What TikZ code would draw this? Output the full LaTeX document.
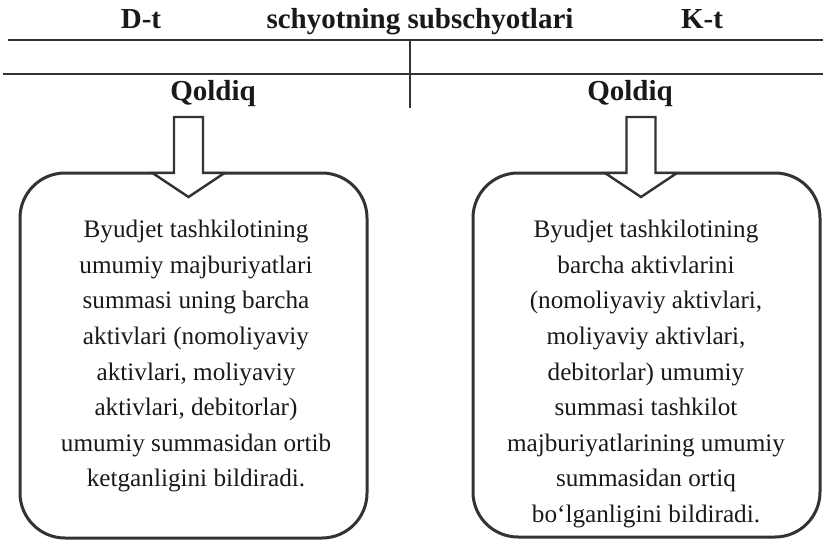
\documentclass[tikz,border=0pt]{standalone}
\usepackage{fontspec}
\setmainfont{Liberation Serif}
\begin{document}
\begin{tikzpicture}[x=1pt,y=-1pt,
  rule/.style={draw=black!80,line width=1.8pt},
  head/.style={font=\fontsize{29}{34}\selectfont\bfseries,text=black!90,inner sep=0pt,anchor=base},
  infobox/.style={draw=black!80,line width=3pt,rounded corners=45pt},
  body/.style={font=\fontsize{25.2}{35.6}\selectfont,text=black!90,align=center,inner sep=0pt,anchor=north},
  blockarrow/.style={draw=black!80,line width=2.4pt,fill=white,line join=miter}]
\useasboundingbox (0,0) rectangle (823,544);

% T-account header
\node[head] (dt) at (141,28) {D-t};
\node[head] (title) at (420,28) {schyotning subschyotlari};
\node[head] (kt) at (702,28) {K-t};

\coordinate (r1l) at (8,40);   \coordinate (r1r) at (823,40);
\coordinate (r2l) at (3,74);   \coordinate (r2r) at (823,74);
\coordinate (vt) at (410,40);  \coordinate (vb) at (410,108);
\draw[rule] (r1l) -- (r1r);
\draw[rule] (r2l) -- (r2r);
\draw[rule] (vt) -- (vb);

\node[head] (qd) at (213,100) {Qoldiq};
\node[head] (qk) at (630,100) {Qoldiq};

% explanation boxes
\draw[infobox] (20,173) rectangle (367,538);
\draw[infobox] (473,173) rectangle (820,537);

% block arrows from the balances down into the boxes
\foreach \c in {188.5,641} {
  \draw[blockarrow] (\c-14.5,117) -- (\c+14.5,117) -- (\c+14.5,173) -- (\c+36,173)
    -- (\c,197) -- (\c-36,173) -- (\c-14.5,173) -- cycle;
}

\node[body] (txtd) at (196,220) {Byudjet tashkilotining\\umumiy majburiyatlari\\summasi uning barcha\\aktivlari (nomoliyaviy\\aktivlari, moliyaviy\\aktivlari, debitorlar)\\umumiy summasidan ortib\\ketganligini bildiradi.};
\node[body] (txtk) at (646,220) {Byudjet tashkilotining\\barcha aktivlarini\\(nomoliyaviy aktivlari,\\moliyaviy aktivlari,\\debitorlar) umumiy\\summasi tashkilot\\majburiyatlarining umumiy\\summasidan ortiq\\bo‘lganligini bildiradi.};
\end{tikzpicture}
\end{document}
